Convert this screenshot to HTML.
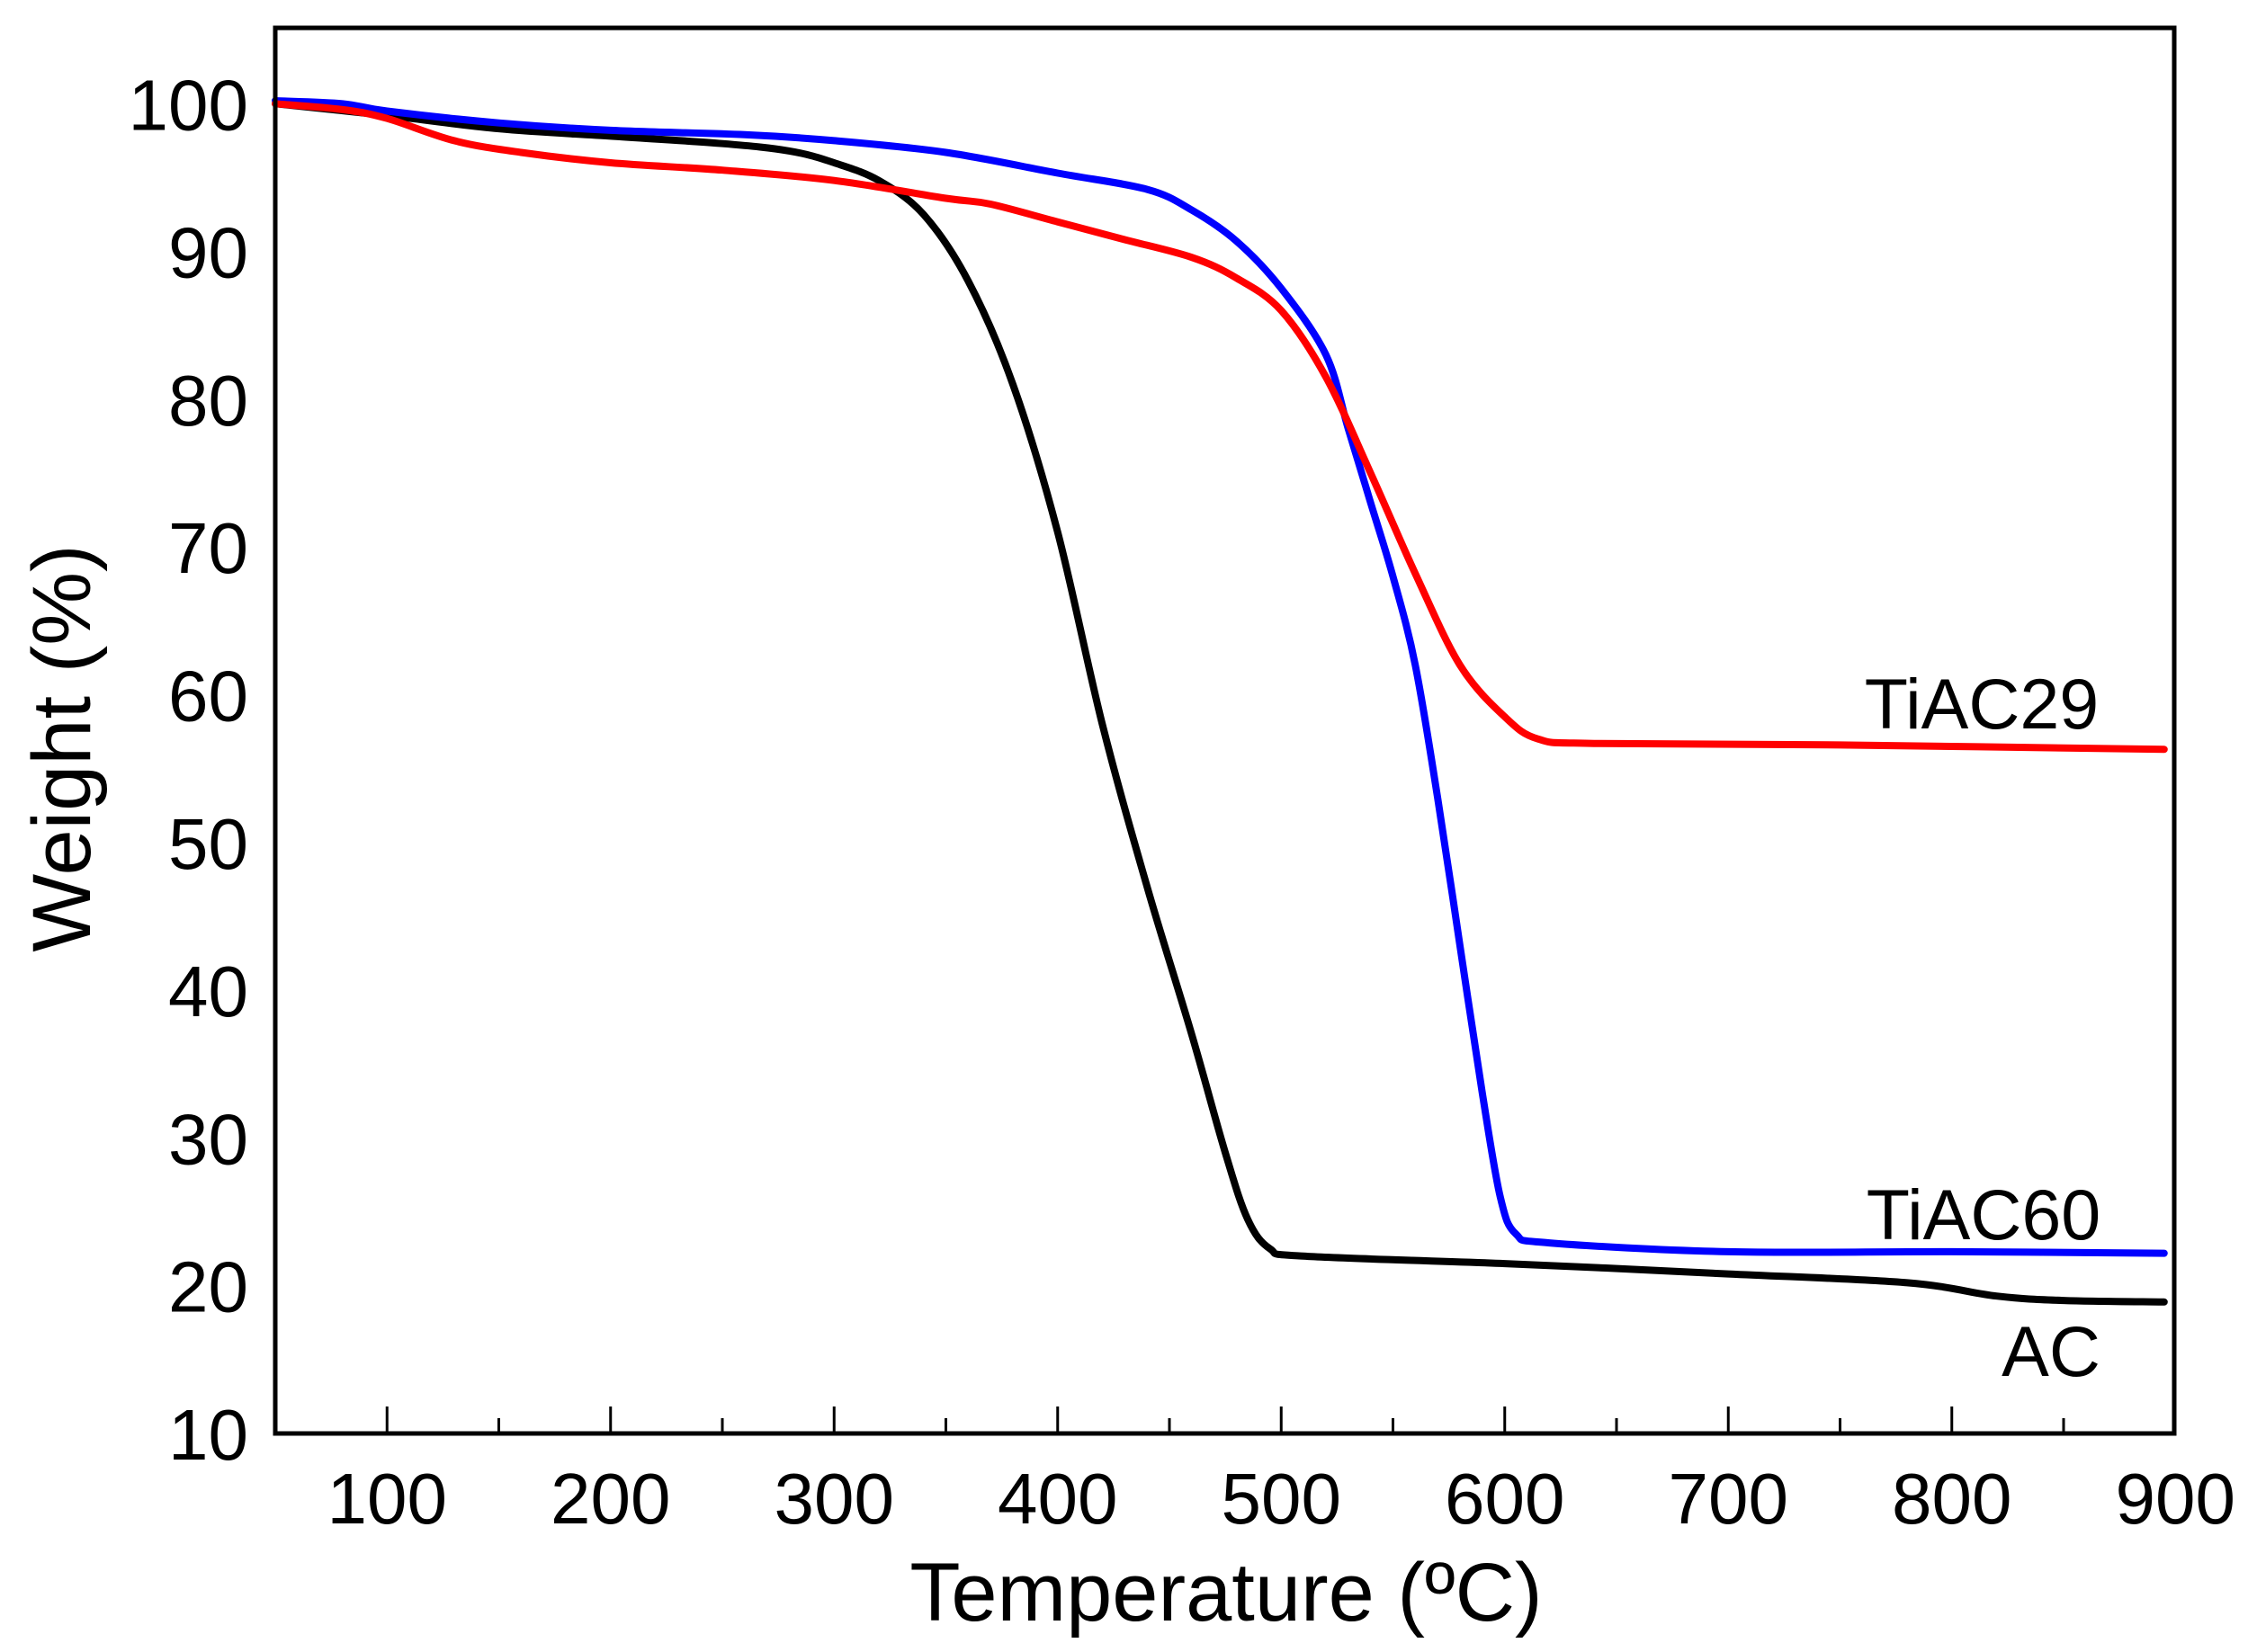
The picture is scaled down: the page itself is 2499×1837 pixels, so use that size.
<!DOCTYPE html>
<html><head><style>body{margin:0;background:#fff}svg{display:block}text{font-family:"Liberation Sans",Arial,sans-serif;fill:#000}</style></head>
<body>
<svg width="2499" height="1837" viewBox="0 0 2499 1837" xmlns="http://www.w3.org/2000/svg">
<g id="ticks" stroke="#000" stroke-width="3"></g>
<g font-size="80" text-anchor="middle" id="xl"></g>
<g font-size="80" text-anchor="end" id="yl"></g>
<g fill="none" stroke-width="8" stroke-linejoin="round" stroke-linecap="round">
<path id="ac" stroke="#000"/>
<path id="t60" stroke="#0000ff"/>
<path id="t29" stroke="#ff0000"/>
</g>
<rect x="306" y="31" width="2111" height="1563" fill="none" stroke="#000" stroke-width="5"/>
<text x="2203" y="810" font-size="79" text-anchor="middle">TiAC29</text>
<text x="2205" y="1378" font-size="79" text-anchor="middle">TiAC60</text>
<text x="2280" y="1530" font-size="79" text-anchor="middle">AC</text>
<text x="1363" y="1802" font-size="92" text-anchor="middle">Temperature (ºC)</text>
<text transform="translate(100,832) rotate(-90)" font-size="92" text-anchor="middle">Weight (%)</text>
</svg>
<script>
const X=t=>306+(t-50)*2.485, Y=w=>1594-(w-10)*16.43;
const ns="http://www.w3.org/2000/svg";
function el(p,tag,a,txt){const e=document.createElementNS(ns,tag);for(const k in a)e.setAttribute(k,a[k]);if(txt)e.textContent=txt;document.getElementById(p).appendChild(e);}
for(let t=100;t<=850;t+=50){const x=X(t),L=t%100?17:30;el("ticks","line",{x1:x,x2:x,y1:1594,y2:1594-L});}
for(let t=100;t<=900;t+=100)el("xl","text",{x:X(t),y:1694},String(t));
for(let w=10;w<=100;w+=10)el("yl","text",{x:276,y:Y(w)+29},String(w));
const d={
ac:[[50,100],[100,99.2],[150,98.3],[200,97.8],[250,97.3],[280,96.8],[300,96],[320,94.8],[340,92.5],[360,88],[380,81],[400,71],[420,58],[440,47],[460,37],[475,29],[485,24.5],[495,22.5],[510,22],[600,21.5],[700,20.8],[780,20.2],[820,19.3],[850,19],[895,18.9]],
t60:[[50,100.2],[80,100],[100,99.5],[150,98.7],[200,98.2],[260,97.9],[300,97.5],[350,96.7],[400,95.3],[440,94.2],[460,92.8],[480,90.7],[500,87.5],[520,83],[530,78],[540,73],[550,68],[560,62],[570,53],[580,43],[590,33],[598,26],[605,23.5],[620,22.9],[700,22.3],[800,22.3],[895,22.2]],
t29:[[50,100],[80,99.6],[100,99],[130,97.5],[160,96.7],[200,96],[250,95.5],[300,94.8],[350,93.6],[370,93.2],[400,92],[430,90.8],[460,89.6],[480,88.2],[500,86],[520,81.5],[540,75],[560,68.2],[580,62],[600,58.5],[615,57],[640,56.7],[750,56.6],[895,56.3]]};
for(const k in d){const p=d[k].map(q=>[X(q[0]),Y(q[1])]);let s="M"+p[0][0]+","+p[0][1];
for(let i=0;i < p.length-1;i++){const a=p[Math.max(i-1,0)],b=p[i],c=p[i+1],e=p[Math.min(i+2,p.length-1)];
const c1=[b[0]+(c[0]-a[0])/6,b[1]+(c[1]-a[1])/6],c2=[c[0]-(e[0]-b[0])/6,c[1]-(e[1]-b[1])/6];
s+=" C"+c1[0].toFixed(1)+","+c1[1].toFixed(1)+" "+c2[0].toFixed(1)+","+c2[1].toFixed(1)+" "+c[0].toFixed(1)+","+c[1].toFixed(1);}
document.getElementById(k).setAttribute("d",s);}
</script>
</body></html>
